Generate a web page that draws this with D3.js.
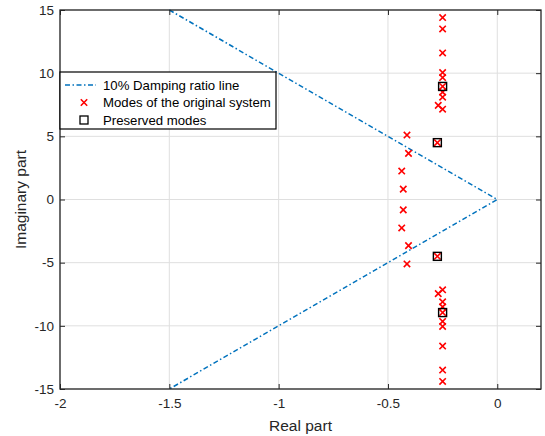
<!DOCTYPE html>
<html><head><meta charset="utf-8">
<script src="https://cdn.jsdelivr.net/npm/d3@7"></script>
<style>body{margin:0;background:#fff}svg{display:block}text{font-family:Arial,"Liberation Sans",sans-serif}</style>
</head><body><svg id="c" width="545" height="436"></svg>
<script>
const xTicks = [-2, -1.5, -1, -0.5, 0];
const yTicks = [-15, -10, -5, 0, 5, 10, 15];
const dampLine = [[-1.5, 15], [0, 0], [-1.5, -15]];
const modesRe = [-0.25,-0.25,-0.25,-0.25,-0.25,-0.25,-0.25,-0.25,-0.27,-0.25,
                 -0.413,-0.274,-0.406,-0.437,-0.43,
                 -0.43,-0.437,-0.406,-0.274,-0.413,
                 -0.25,-0.27,-0.25,-0.25,-0.25,-0.25,-0.25,-0.25,-0.25,-0.25];
const modesIm = [14.4,13.5,11.6,10.05,9.65,8.95,8.5,8.1,7.45,7.15,
                 5.1,4.5,3.65,2.25,0.82,
                 -0.82,-2.25,-3.65,-4.5,-5.1,
                 -7.15,-7.45,-8.1,-8.5,-8.95,-9.65,-10.05,-11.6,-13.5,-14.4];
const preservedRe = [-0.25, -0.274, -0.274, -0.25];
const preservedIm = [8.95, 4.5, -4.5, -8.95];
const legendLabels = ["10% Damping ratio line", "Modes of the original system", "Preserved modes"];

const svg = d3.select("#c");
const m = {l: 60, r: 4, t: 10, b: 47};
const W = 545, H = 436;
const x = d3.scaleLinear().domain([-2, 0.2]).range([m.l, W - m.r]);
const y = d3.scaleLinear().domain([-15, 15]).range([H - m.b, m.t]);
const axisCol = "#262626";
const fmt = d => String(d);

// grid
const g = svg.append("g");
g.selectAll(".gx").data(xTicks).join("line")
  .attr("x1", d => x(d)).attr("x2", d => x(d)).attr("y1", y(-15)).attr("y2", y(15))
  .attr("stroke", "#dfdfdf").attr("stroke-width", 1);
g.selectAll(".gy").data(yTicks).join("line")
  .attr("y1", d => y(d)).attr("y2", d => y(d)).attr("x1", x(-2)).attr("x2", x(0.2))
  .attr("stroke", "#dfdfdf").attr("stroke-width", 1);

// damping line
svg.append("path").datum(dampLine)
  .attr("d", d3.line().x(d => x(d[0])).y(d => y(d[1])))
  .attr("fill", "none").attr("stroke", "#0072BD").attr("stroke-width", 1.5)
  .attr("stroke-dasharray", "5,2.5,1.5,2.5");

// crosses
const cs = 3.2;
const cross = svg.append("g");
modesRe.forEach((r, i) => {
  const px = x(r), py = y(modesIm[i]);
  cross.append("path")
    .attr("d", `M${px-cs},${py-cs}L${px+cs},${py+cs}M${px-cs},${py+cs}L${px+cs},${py-cs}`)
    .attr("stroke", "#ff0000").attr("stroke-width", 1.6).attr("fill", "none");
});
// squares
const ss = 4;
preservedRe.forEach((r, i) => {
  svg.append("rect").attr("x", x(r) - ss).attr("y", y(preservedIm[i]) - ss)
    .attr("width", 2 * ss).attr("height", 2 * ss)
    .attr("fill", "none").attr("stroke", "#000").attr("stroke-width", 1.4);
});

// axes
const xa = svg.append("g").attr("transform", `translate(0,${H - m.b})`)
  .call(d3.axisBottom(x).tickValues(xTicks).tickSize(-5).tickPadding(9).tickFormat(fmt));
const xt = svg.append("g").attr("transform", `translate(0,${m.t})`)
  .call(d3.axisTop(x).tickValues(xTicks).tickSize(-5).tickFormat(""));
const ya = svg.append("g").attr("transform", `translate(${m.l},0)`)
  .call(d3.axisLeft(y).tickValues(yTicks).tickSize(-5).tickPadding(6).tickFormat(fmt));
const yr = svg.append("g").attr("transform", `translate(${W - m.r},0)`)
  .call(d3.axisRight(y).tickValues(yTicks).tickSize(-5).tickFormat(""));
[xa, xt, ya, yr].forEach(a => {
  a.select(".domain").remove();
  a.selectAll("line").attr("stroke", axisCol);
  a.selectAll("text").attr("fill", axisCol).style("font-size", "13.5px")
    .style("font-family", "Arial, 'Liberation Sans', sans-serif");
});
svg.append("rect").attr("x", m.l).attr("y", m.t).attr("width", W - m.l - m.r).attr("height", H - m.t - m.b)
  .attr("fill", "none").attr("stroke", axisCol).attr("stroke-width", 1.3);

// labels
svg.append("text").attr("x", x(-0.9)).attr("y", 431).attr("text-anchor", "middle")
  .attr("fill", axisCol).style("font-size", "15.5px").text("Real part");
svg.append("text").attr("transform", `translate(26,${y(0)}) rotate(-90)`).attr("text-anchor", "middle")
  .attr("fill", axisCol).style("font-size", "15.5px").text("Imaginary part");

// legend
const lg = svg.append("g");
const lx = m.l, ly = 72, lw = 216, lh = 57;
lg.append("rect").attr("x", lx).attr("y", ly).attr("width", lw).attr("height", lh)
  .attr("fill", "#fff").attr("stroke", "#000").attr("stroke-width", 1.2);
const rows = [ly + 13, ly + 30.5, ly + 48];
lg.append("line").attr("x1", lx + 5).attr("x2", lx + 36).attr("y1", rows[0]).attr("y2", rows[0])
  .attr("stroke", "#0072BD").attr("stroke-width", 1.5).attr("stroke-dasharray", "5,2.5,1.5,2.5");
{
  const px = lx + 24, py = rows[1];
  lg.append("path").attr("d", `M${px-cs},${py-cs}L${px+cs},${py+cs}M${px-cs},${py+cs}L${px+cs},${py-cs}`)
    .attr("stroke", "#ff0000").attr("stroke-width", 1.6);
  lg.append("rect").attr("x", lx + 24 - 4).attr("y", rows[2] - 4).attr("width", 8).attr("height", 8)
    .attr("fill", "none").attr("stroke", "#000").attr("stroke-width", 1.3);
}
legendLabels.forEach((t, i) => {
  lg.append("text").attr("x", lx + 43).attr("y", rows[i]).attr("dy", "0.35em")
    .attr("fill", "#000").style("font-size", "13.2px").text(t);
});
</script></body></html>
